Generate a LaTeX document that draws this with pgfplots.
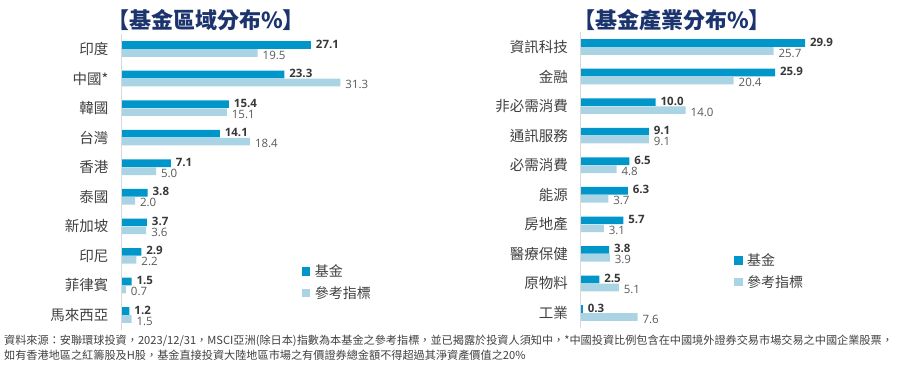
\documentclass[border=0pt]{standalone}
\usepackage{fontspec}
\usepackage{pgfplots}
\pgfplotsset{compat=1.18}
\setmainfont{Open Sans}
\newfontfamily\cjk{Noto Sans CJK TC}
\definecolor{fund}{RGB}{0,150,201}
\definecolor{bench}{RGB}{170,212,227}
\definecolor{navy}{RGB}{28,52,110}
\definecolor{txt}{RGB}{64,64,64}
\definecolor{axisgray}{RGB}{217,217,217}
\pgfplotsset{
  mybar/.style={
    xbar, scale only axis, height=295.6bp,
    xmin=0, xmax=40, ymin=-0.5, ymax=9.5,
    ytick={0,...,9}, xtick=\empty,
    axis line style={draw=none}, major tick length=0pt,
    yticklabel style={font=\cjk\fontsize{14.5bp}{15bp}\selectfont, text=txt, xshift=-9bp},
    bar width=7.6bp,
    point meta=explicit symbolic,
    nodes near coords,
    clip=false,
    legend style={draw=none, fill=none, anchor=north west, inner sep=0pt,
      font=\cjk\fontsize{14bp}{15bp}\selectfont, text=txt, row sep=5bp, column sep=3bp,
      nodes={inner sep=1.5bp}},
    legend cell align=left,
    legend image code/.code={\fill[##1,draw=none] (0bp,-4.2bp) rectangle (8.4bp,4.2bp);},
  },
  fundplot/.style={fill=fund, draw=none, bar shift=4bp,
    every node near coord/.append style={font=\bfseries\fontsize{11.5bp}{12bp}\selectfont, text=black!78, anchor=west, xshift=1.5bp, yshift=1bp}},
  benchplot/.style={fill=bench, draw=none, bar shift=-4bp,
    every node near coord/.append style={font=\fontsize{11.5bp}{12bp}\selectfont, text=black!65, anchor=west, xshift=1.5bp, yshift=-2bp}},
}
\begin{document}
\begin{tikzpicture}[x=1bp,y=1bp]
\useasboundingbox (0,0) rectangle (922,365);
\node[font=\cjk\bfseries\fontsize{22bp}{24bp}\selectfont, text=navy] at (206,345) {【基金區域分布\%】};
\node[font=\cjk\bfseries\fontsize{22bp}{24bp}\selectfont, text=navy] at (672,345) {【基金產業分布\%】};
\begin{axis}[mybar, width=280.4bp, at={(121bp,183bp)}, anchor=west,
  yticklabels={馬來西亞,菲律賓,印尼,新加坡,泰國,香港,台灣,韓國,中國*,印度},
  legend style={at={(0.645,0.225)}}]
\addplot[fundplot] coordinates {
 (27.1,9) [27.1] (23.3,8) [23.3] (15.4,7) [15.4] (14.1,6) [14.1] (7.1,5) [7.1]
 (3.8,4) [3.8] (3.7,3) [3.7] (2.9,2) [2.9] (1.5,1) [1.5] (1.2,0) [1.2]};
\addlegendentry{基金}
\addplot[benchplot] coordinates {
 (19.5,9) [19.5] (31.3,8) [31.3] (15.1,7) [15.1] (18.4,6) [18.4] (5.0,5) [5.0]
 (2.0,4) [2.0] (3.6,3) [3.6] (2.2,2) [2.2] (0.7,1) [0.7] (1.5,0) [1.5]};
\addlegendentry{參考指標}
\draw[axisgray, line width=0.8bp] (axis description cs:0,0) -- (axis description cs:0,1);
\end{axis}
\begin{axis}[mybar, width=300.4bp, at={(580.5bp,185bp)}, anchor=west,
  yticklabels={工業,原物料,醫療保健,房地產,能源,必需消費,通訊服務,非必需消費,金融,資訊科技},
  legend style={at={(0.511,0.256)}}]
\addplot[fundplot] coordinates {
 (29.9,9) [29.9] (25.9,8) [25.9] (10.0,7) [10.0] (9.1,6) [9.1] (6.5,5) [6.5]
 (6.3,4) [6.3] (5.7,3) [5.7] (3.8,2) [3.8] (2.5,1) [2.5] (0.3,0) [0.3]};
\addlegendentry{基金}
\addplot[benchplot] coordinates {
 (25.7,9) [25.7] (20.4,8) [20.4] (14.0,7) [14.0] (9.1,6) [9.1] (4.8,5) [4.8]
 (3.7,4) [3.7] (3.1,3) [3.1] (3.9,2) [3.9] (5.1,1) [5.1] (7.6,0) [7.6]};
\addlegendentry{參考指標}
\draw[axisgray, line width=0.8bp] (axis description cs:0,0) -- (axis description cs:0,1);
\end{axis}
\node[anchor=north west, align=left, inner sep=0pt, font=\cjk\fontsize{11.15bp}{15.5bp}\selectfont, text=txt] at (4,30.5) {資料來源：安聯環球投資，2023/12/31，MSCI亞洲(除日本)指數為本基金之參考指標，並已揭露於投資人須知中，*中國投資比例包含在中國境外證券交易市場交易之中國企業股票，\\如有香港地區之紅籌股及H股，基金直接投資大陸地區市場之有價證券總金額不得超過其淨資產價值之20\%};
\end{tikzpicture}
\end{document}
